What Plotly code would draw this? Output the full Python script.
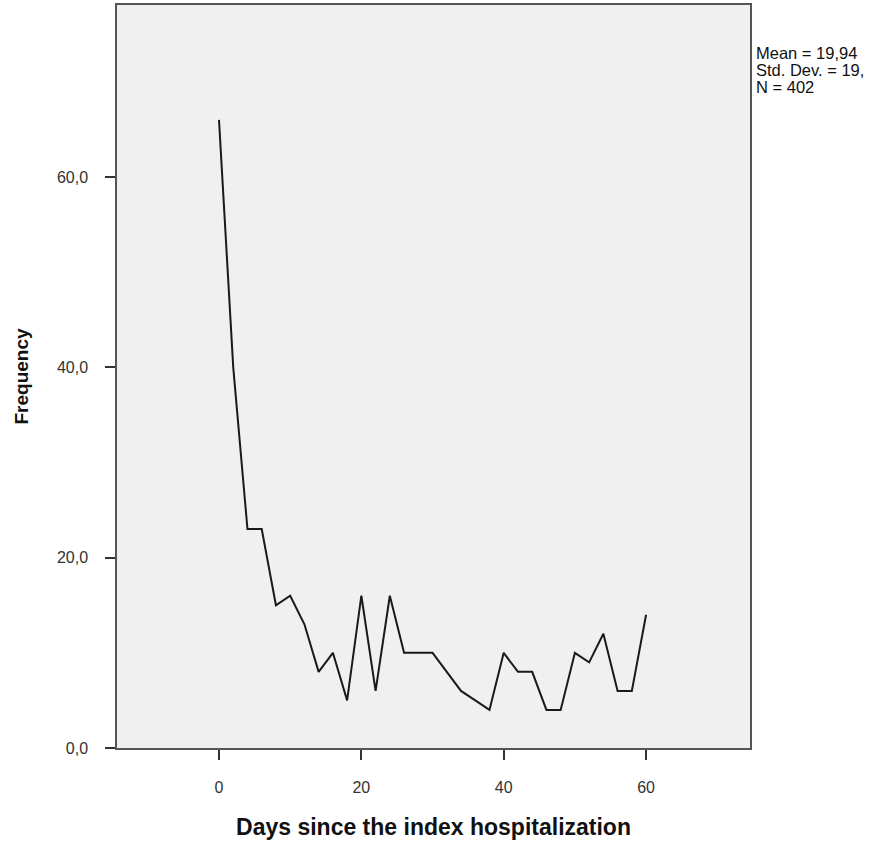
import plotly.graph_objects as go

days = [0, 2, 4, 6, 8, 10, 12, 14, 16, 18, 20, 22, 24, 26, 28, 30, 32, 34, 36, 38,
        40, 42, 44, 46, 48, 50, 52, 54, 56, 58, 60]
frequency = [66, 40, 23, 23, 15, 16, 13, 8, 10, 5, 16, 6, 16, 10, 10, 10, 8, 6, 5, 4,
             10, 8, 8, 4, 4, 10, 9, 12, 6, 6, 14]

x_ticks = [0, 20, 40, 60]
x_ticklabels = ["0", "20", "40", "60"]
y_ticks = [0, 20, 40, 60]
y_ticklabels = ["0,0", "20,0", "40,0", "60,0"]

stats_lines = ["Mean = 19,94", "Std. Dev. = 19,", "N = 402"]

FONT = "Liberation Sans, Arial, sans-serif"

fig = go.Figure()
fig.add_trace(go.Scatter(
    x=days, y=frequency, mode="lines",
    line=dict(color="#1a1a1a", width=2),
    showlegend=False, hoverinfo="x+y",
))

axis_common = dict(
    showgrid=False, zeroline=False,
    showline=True, linecolor="#555555", linewidth=1.5, mirror=True,
    ticks="outside", ticklen=10, tickcolor="#333333", tickwidth=1.5,
    tickfont=dict(family=FONT, size=16, color="#333333"),
)

L, R, T, B = 117, 124, 5, 94
W, H = 874, 842
plot_w = W - L - R
plot_h = H - T - B

annotations = []
line_y_px = [53, 70, 87]  # vertical centre of each statistics line, in page pixels
for txt, ypx in zip(stats_lines, line_y_px):
    annotations.append(dict(
        x=(754 - L) / plot_w, y=(H - B - ypx) / plot_h,
        xref="paper", yref="paper",
        text=txt, showarrow=False,
        xanchor="left", yanchor="middle", align="left",
        font=dict(family=FONT, size=16.5, color="#111111"),
    ))

fig.update_layout(
    width=W, height=H,
    margin=dict(l=L, r=R, t=T, b=B, autoexpand=False),
    paper_bgcolor="white",
    plot_bgcolor="#f0f0f0",
    xaxis=dict(
        range=[-14.33, 74.6],
        tickvals=x_ticks, ticktext=x_ticklabels,
        ticklabelstandoff=14,
        title=dict(text="<b>Days since the index hospitalization</b>",
                   font=dict(family=FONT, size=23, color="#111111"),
                   standoff=24),
        **axis_common,
    ),
    yaxis=dict(
        range=[0, 78.07],
        tickvals=y_ticks, ticktext=y_ticklabels,
        ticklabelstandoff=14,
        title=dict(text="<b>Frequency</b>",
                   font=dict(family=FONT, size=19, color="#111111"),
                   standoff=23),
        **axis_common,
    ),
    annotations=annotations,
)

fig.write_html("out.html", config={"displayModeBar": False},
               post_script="document.body.style.margin='0px';")
